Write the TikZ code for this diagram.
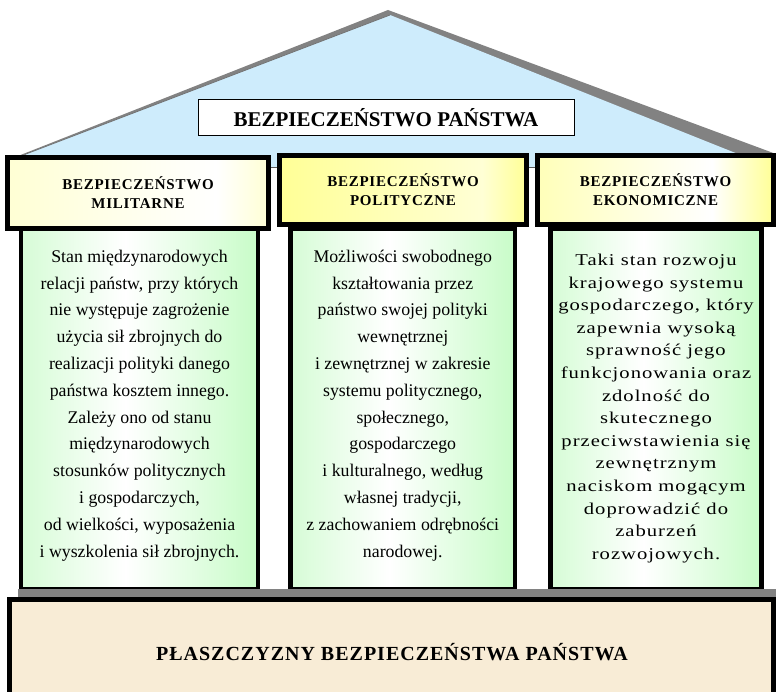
\documentclass[tikz,border=0pt]{standalone}
\usepackage{fontspec}
\setmainfont{Liberation Serif}
\newfontfamily\wideserif[FakeStretch=1.25,LetterSpace=6]{Liberation Serif}
\newfontfamily\capserif[LetterSpace=5]{Liberation Serif}
\definecolor{roofblue}{RGB}{206,236,252}
\definecolor{roofgray}{RGB}{130,130,130}
\definecolor{beige}{RGB}{248,236,214}
\definecolor{yA}{RGB}{255,255,212}
\definecolor{yB}{RGB}{255,255,150}
\definecolor{yC}{RGB}{255,255,185}
\definecolor{yD}{RGB}{255,255,150}
\definecolor{gA}{RGB}{214,252,214}
\definecolor{gB}{RGB}{200,252,200}
\pgfdeclarehorizontalshading{hdrA}{100bp}{color(0bp)=(yA); color(25bp)=(yA); color(65bp)=(white); color(75bp)=(yA); color(100bp)=(yA)}
\pgfdeclarehorizontalshading{hdrB}{100bp}{color(0bp)=(yB); color(25bp)=(yB); color(66bp)=(yB!40!white); color(75bp)=(yB); color(100bp)=(yB)}
\pgfdeclarehorizontalshading{hdrC}{100bp}{color(0bp)=(yC); color(25bp)=(yC); color(62bp)=(white); color(75bp)=(yD); color(100bp)=(yD)}
\pgfdeclarehorizontalshading{colshade}{100bp}{color(0bp)=(gA); color(25bp)=(gA); color(47bp)=(white); color(75bp)=(gB); color(100bp)=(gB)}
\begin{document}
\begin{tikzpicture}[x=1pt,y=-1pt,
  hdr/.style={draw=black, line width=5pt, align=center, inner sep=0pt,
    font=\capserif\bfseries\fontsize{15}{19}\selectfont},
  colbox/.style={draw=black, line width=4.5pt, shading=colshade, inner sep=0pt},
  coltext/.style={align=center, inner sep=0pt, font=\fontsize{17.8}{26.8}\selectfont},
  widetext/.style={align=center, inner sep=0pt, font=\wideserif\fontsize{16.5}{22.6}\selectfont},
  titlebox/.style={draw=black, line width=1pt, fill=white, inner sep=0pt,
    font=\bfseries\fontsize{21}{24}\selectfont},
  basebox/.style={draw=black, line width=5pt, fill=beige, inner sep=0pt}]
\useasboundingbox (0,0) rectangle (776,692);
\clip (0,0) rectangle (776,692);
% roof
\fill[roofgray] (18,156) -- (388,10) -- (776,154) -- (776,162) -- (18,162) -- cycle;
\fill[roofblue] (26,154) -- (390,15) -- (738,154) -- (738,167) -- (26,167) -- cycle;
\draw[line width=0.8pt, black!55] (26,154) -- (390,15);
\draw[line width=0.8pt, black!65] (26,167) -- (738,167);
\node[titlebox, minimum width=376pt, minimum height=36pt] (title) at (386,118) {BEZPIECZEŃSTWO PAŃSTWA};
% columns
\node[colbox, minimum width=237pt, minimum height=360pt] (c1) at (139.5,409) {};
\node[colbox, minimum width=224.5pt, minimum height=360pt] (c2) at (402.75,409) {};
\node[colbox, minimum width=211pt, minimum height=360pt] (c3) at (656,409) {};
% headers
\node[hdr, shading=hdrA, minimum width=261pt, minimum height=71pt] (h1) at (138,193) {BEZPIECZEŃSTWO\\MILITARNE};
\node[hdr, shading=hdrB, minimum width=247pt, minimum height=69pt] (h2) at (403,190) {BEZPIECZEŃSTWO\\POLITYCZNE};
\node[hdr, shading=hdrC, minimum width=236pt, minimum height=69pt] (h3) at (655.5,190) {BEZPIECZEŃSTWO\\EKONOMICZNE};
% column texts
\node[coltext] (t1) at (139.5,405.5) {Stan międzynarodowych\\relacji państw, przy których\\nie występuje zagrożenie\\użycia sił zbrojnych do\\realizacji polityki danego\\państwa kosztem innego.\\Zależy ono od stanu\\międzynarodowych\\stosunków politycznych\\i gospodarczych,\\od wielkości, wyposażenia\\i wyszkolenia sił zbrojnych.};
\node[coltext] (t2) at (402.75,405.5) {Możliwości swobodnego\\kształtowania przez\\państwo swojej polityki\\wewnętrznej\\i zewnętrznej w zakresie\\systemu politycznego,\\społecznego,\\gospodarczego\\i kulturalnego, według\\własnej tradycji,\\z zachowaniem odrębności\\narodowej.};
\node[widetext] (t3) at (656,408.5) {Taki stan rozwoju\\krajowego systemu\\gospodarczego, który\\zapewnia wysoką\\sprawność jego\\funkcjonowania oraz\\zdolność do\\skutecznego\\przeciwstawienia się\\zewnętrznym\\naciskom mogącym\\doprowadzić do\\zaburzeń\\rozwojowych.};
% base
\fill[roofgray] (18,589) rectangle (776,598);
\node[basebox, minimum width=764pt, minimum height=121pt] (base) at (391.5,660) {};
\node[inner sep=0pt, font=\bfseries\fontsize{20}{24}\selectfont\addfontfeature{LetterSpace=5}] (basetext) at (392,652) {PŁASZCZYZNY BEZPIECZEŃSTWA PAŃSTWA};
\end{tikzpicture}
\end{document}
